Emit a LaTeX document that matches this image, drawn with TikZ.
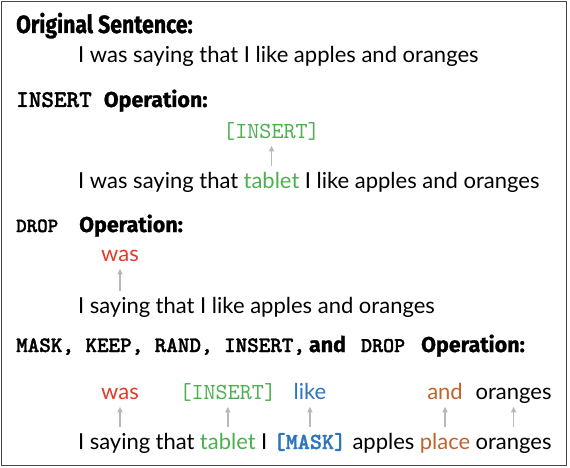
\documentclass[tikz,border=0pt]{standalone}
\usepackage{fontspec}
\usetikzlibrary{positioning,arrows.meta}
\setmainfont{Lato}
\newfontfamily\headfont[FakeStretch=0.85,FakeBold=1]{Fira Sans}
\newfontfamily\opfont[FakeBold=1]{Fira Sans}
\newfontfamily\codefont{lmmono10-regular.otf}
\newfontfamily\codebold[FakeBold=1.5]{lmmonolt10-bold.otf}
\definecolor{insgreen}{RGB}{76,175,80}
\definecolor{dropred}{RGB}{229,57,41}
\definecolor{maskblue}{RGB}{47,117,190}
\definecolor{randbrown}{RGB}{196,98,45}
\definecolor{arrowgray}{RGB}{185,185,185}
\definecolor{framegray}{RGB}{70,70,70}
\newcommand{\wordsize}{\fontsize{22}{26}\selectfont}
\newcommand{\opname}[2]{{\codebold\fontsize{#1}{#1}\selectfont #2}}

\begin{document}
\begin{tikzpicture}[x=1pt,y=-1pt]
\tikzset{word/.style={inner sep=0pt, text height=15pt, text depth=4pt, font=\wordsize},
  tok/.style={word, font=\codefont\fontsize{23}{26}\selectfont},
  head/.style={inner sep=0pt, anchor=base west, font=\opfont\bfseries\fontsize{21.5}{26}\selectfont},
  moved/.style={-{Triangle[length=5.5pt,width=5pt]}, draw=arrowgray, line width=1.8pt, shorten <=7pt, shorten >=3pt}}
\useasboundingbox (0,0) rectangle (570,468);
\draw[framegray, line width=1.5pt] (1.5,1.5) rectangle (566.5,465.5);

% original sentence
\node[head, font=\headfont\bfseries\fontsize{25}{30}\selectfont] (h1) at (16,33) {Original Sentence:};
\node[word, anchor=base west] (s1) at (78,63) {I was saying that I like apples and oranges};

% insert
\node[head] (h2) at (16,107) {\opname{24}{INSERT}\hspace{12pt}Operation:};
\node[word, anchor=base west] (s2a) at (78,188) {I was saying that};
\node[word, text=insgreen, base right=5pt of s2a] (s2b) {tablet};
\node[word, base right=5pt of s2b] (s2c) {I like apples and oranges};
\node[tok, text=insgreen, above=30pt of s2b] (t2) {[INSERT]};
\draw[moved] (s2b) -- (t2);

% drop
\node[head] (h3) at (16,232) {\opname{20}{DROP}\hspace{21pt}Operation:};
\node[word, anchor=base west] (s3a) at (78,313) {I};
\node[word, base right=5pt of s3a] (s3b) {saying};
\node[word, base right=5pt of s3b] (s3c) {that I like apples and oranges};
\node[word, text=dropred, above=32pt of s3b] (t3) {was};
\draw[moved] (s3b) -- (t3);

% all operations
\node[head] (h4) at (16,352) {\opname{22}{MASK, KEEP, RAND, INSERT,}\hspace{4pt}and\hspace{15pt}\opname{21}{DROP}\hspace{16pt}Operation:};
\node[word, anchor=base west] (s4a) at (78,449) {I};
\node[word, base right=5pt of s4a] (s4b) {saying};
\node[word, base right=5pt of s4b] (s4c) {that};
\node[word, text=insgreen, base right=5pt of s4c] (s4d) {tablet};
\node[word, base right=5pt of s4d] (s4e) {I};
\node[tok, text=maskblue, font=\codebold\fontsize{23}{26}\selectfont, base right=6pt of s4e] (s4f) {[MASK]};
\node[word, base right=6pt of s4f] (s4g) {apples};
\node[word, text=randbrown, base right=5pt of s4g] (s4h) {place};
\node[word, base right=5pt of s4h] (s4i) {oranges};
\node[word, text=dropred, above=30pt of s4b] (t4b) {was};
\node[tok, text=insgreen, above=30pt of s4d] (t4d) {[INSERT]};
\node[word, text=maskblue, above=30pt of s4f] (t4f) {like};
\node[word, text=randbrown, above=30pt of s4h] (t4h) {and};
\node[word, above=30pt of s4i] (t4i) {oranges};
\draw[moved] (s4b) -- (t4b);
\draw[moved] (s4d) -- (t4d);
\draw[moved] (s4f) -- (t4f);
\draw[moved] (s4h) -- (t4h);
\draw[moved] (s4i) -- (t4i);
\end{tikzpicture}
\end{document}
